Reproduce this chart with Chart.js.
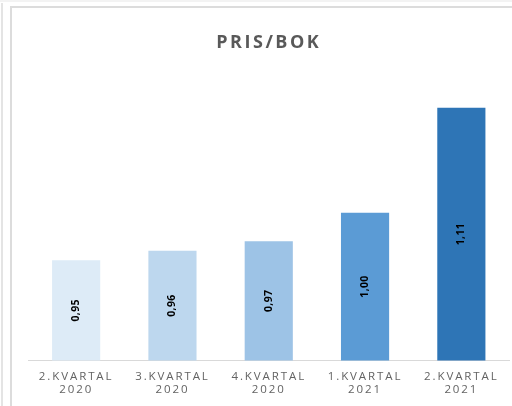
<!DOCTYPE html>
<html>
<head>
<meta charset="utf-8">
<script src="https://cdn.jsdelivr.net/npm/chart.js@4.4.1/dist/chart.umd.min.js"></script>
<style>
  html, body { margin: 0; padding: 0; background: #ffffff; }
  body { width: 512px; height: 406px; position: relative; overflow: hidden; }
  #wrap { position: absolute; left: 0; top: 0; width: 512px; height: 406px; }
  .ln { position: absolute; z-index: 5; }
</style>
</head>
<body>
<div id="wrap"><canvas id="c" width="512" height="406"></canvas></div>
<div class="ln" style="left:0;top:0;width:512px;height:2px;background:#f3f3f3;"></div>
<div class="ln" style="left:1px;top:3px;width:2px;height:403px;background:#e4e4e4;"></div>
<div class="ln" style="left:10px;top:6px;width:2px;height:400px;background:#dcdcdc;"></div>
<div class="ln" style="left:10px;top:6px;width:502px;height:2px;background:#dcdcdc;"></div>
<script>
const categories = [["2.KVARTAL", "2020"], ["3.KVARTAL", "2020"], ["4.KVARTAL", "2020"], ["1.KVARTAL", "2021"], ["2.KVARTAL", "2021"]];
const values = [0.95, 0.96, 0.97, 1.00, 1.11];
const barColors = ["#DDEBF7", "#BDD7EE", "#9DC3E6", "#5B9BD5", "#2E75B6"];
const titleText = "PRIS/BOK";

const spacingPlugin = {
  id: 'spacing',
  beforeDraw(chart) {
    chart.ctx.letterSpacing = '2.5px';
  },
  afterDatasetsDraw(chart) {
    chart.ctx.letterSpacing = '1.9px';
  },
  afterDraw(chart) {
    const ctx = chart.ctx;
    const xs = chart.scales.x;
    const ys = chart.scales.y;
    ctx.save();
    ctx.letterSpacing = '0.3px';
    ctx.fillStyle = '#000000';
    ctx.font = 'bold 10.5px "Open Sans", sans-serif';
    ctx.textAlign = 'center';
    ctx.textBaseline = 'middle';
    values.forEach((v, i) => {
      const x = xs.getPixelForValue(i);
      const top = ys.getPixelForValue(v);
      const base = ys.getPixelForValue(ys.min);
      const cy = (top + base) / 2;
      ctx.save();
      ctx.translate(x, cy);
      ctx.rotate(-Math.PI / 2);
      ctx.fillText(v.toFixed(2).replace('.', ','), 0, 0);
      ctx.restore();
    });
    ctx.restore();
  }
};

new Chart(document.getElementById('c'), {
  type: 'bar',
  data: {
    labels: categories,
    datasets: [{
      data: values,
      backgroundColor: barColors,
      borderWidth: 0,
      categoryPercentage: 1.0,
      barPercentage: 0.5
    }]
  },
  options: {
    responsive: false,
    animation: false,
    layout: { padding: { left: 28, right: 2.5, top: 0, bottom: 0 } },
    plugins: {
      legend: { display: false },
      tooltip: { enabled: false },
      title: {
        display: true,
        text: titleText,
        color: '#595959',
        font: { family: '"Open Sans"', size: 18, weight: 'bold', lineHeight: 1.2 },
        padding: { top: 32.2, bottom: 44.5 }
      }
    },
    scales: {
      x: {
        grid: { display: false, drawTicks: false },
        border: { display: true, color: '#d9d9d9', width: 1 },
        ticks: {
          color: '#636363',
          font: { family: '"Open Sans"', size: 11.5, lineHeight: 1.2 },
          padding: 9,
          maxRotation: 0,
          autoSkip: false,
          z: 1
        }
      },
      y: {
        display: false,
        min: 0.845,
        max: 1.12
      }
    }
  },
  plugins: [spacingPlugin]
});
</script>
</body>
</html>
